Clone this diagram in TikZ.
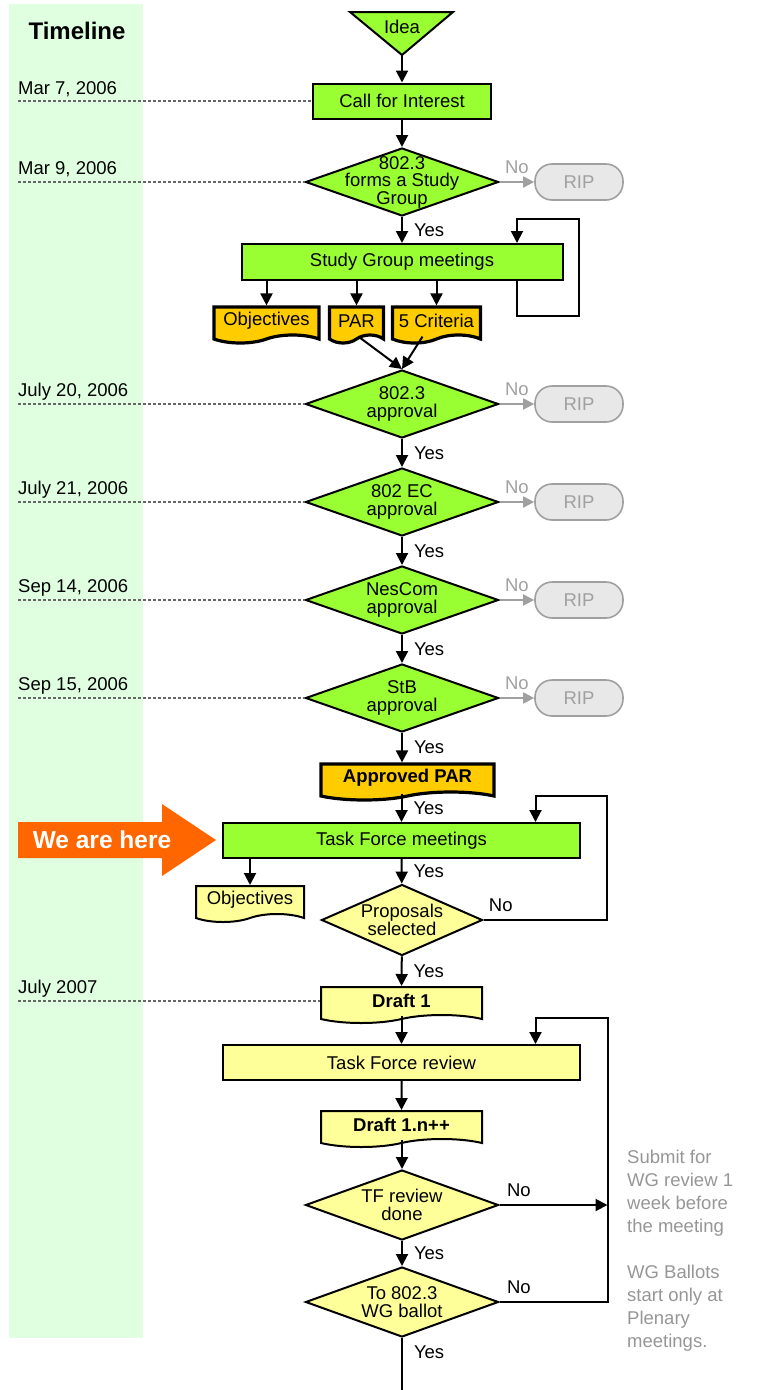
\documentclass[tikz,border=0pt]{standalone}
\usepackage{fontspec}
\setmainfont{Liberation Sans}
\usetikzlibrary{arrows.meta, shapes.geometric, shapes.symbols, positioning, calc}

\definecolor{FlowGreen}{RGB}{153,255,51}
\definecolor{DocOrange}{RGB}{255,204,0}
\definecolor{DocYellow}{RGB}{255,255,153}
\definecolor{TimeGreen}{RGB}{224,255,224}
\definecolor{HereOrange}{RGB}{255,102,0}
\definecolor{RipGray}{RGB}{160,160,160}
\definecolor{NoteGray}{RGB}{150,150,150}

\tikzset{
  txt/.style={font=\fontsize{18.5}{17.5}\selectfont},
  process/.style={draw, line width=2pt, fill=#1, minimum height=35pt, inner sep=0pt, txt},
  decision/.style={diamond, draw, line width=2pt, fill=#1, minimum width=193pt,
    minimum height=68pt, inner sep=0pt},
  dtext/.style={txt, align=center, inner sep=0pt},
  document/.style={tape, tape bend top=none, tape bend bottom=in and out, tape bend height=8pt,
    draw, line width=2pt, fill=#1, inner sep=0pt, minimum height=36pt, txt},
  rip/.style={draw=RipGray, fill=black!9, text=RipGray, line width=1.6pt, rounded corners=17pt,
    minimum width=88pt, minimum height=36pt, txt},
  flow/.style={-{Triangle[length=12pt,width=12pt]}, line width=2pt},
  noflow/.style={-{Triangle[length=11pt,width=11pt]}, line width=1.8pt, draw=RipGray},
  dateline/.style={dash pattern=on 3pt off 2pt, line width=1.5pt, draw=black!60},
  date/.style={anchor=base west, inner sep=0pt, txt},
  yes/.style={anchor=west, inner sep=0pt, xshift=11pt, txt},
  nolabel/.style={anchor=south, inner sep=0pt, yshift=7pt, txt, text=#1},
  nolabel/.default=RipGray,
}

\begin{document}
\begin{tikzpicture}[x=1pt, y=-1pt]
  \useasboundingbox (0,0) rectangle (757,1390);

  % timeline strip
  \fill[TimeGreen] (9,4) rectangle (143,1338);
  \node[font=\fontsize{24}{28}\selectfont\bfseries] (title) at (77,31) {Timeline};

  % main column
  \draw[fill=FlowGreen, line width=2pt] (350,12) -- (453,12) -- (402,55) -- cycle;
  \node[txt, inner sep=0pt] (idea) at (402,27) {Idea};
  \coordinate (ideatip) at (402,55);

  \node[process=FlowGreen, minimum width=178pt] (call) at (402,101) {Call for Interest};
  \node[decision=FlowGreen, label={[dtext]center:{802.3\\forms a Study\\Group}}] (sg) at (402,182) {};
  \node[process=FlowGreen, minimum width=321pt, minimum height=36pt] (sgm) at (402,262) {Study Group meetings};

  \node[document=DocOrange, line width=3.2pt, minimum width=105pt] (obj) at (266.5,321) {Objectives};
  \node[document=DocOrange, line width=3.2pt, minimum width=54pt] (par) at (356.5,321) {PAR};
  \node[document=DocOrange, line width=3.2pt, minimum width=88pt] (crit) at (436.5,321) {5 Criteria};

  \node[decision=FlowGreen, label={[dtext]center:{802.3\\approval}}] (app) at (402,404) {};
  \node[decision=FlowGreen, label={[dtext]center:{802 EC\\approval}}] (ec) at (402,502) {};
  \node[decision=FlowGreen, label={[dtext]center:{NesCom\\approval}}] (nes) at (402,600) {};
  \node[decision=FlowGreen, label={[dtext]center:{StB\\approval}}] (stb) at (402,698) {};

  \node[document=DocOrange, line width=3.2pt, minimum width=173pt, font=\fontsize{18.5}{17.5}\selectfont\bfseries]
    (apar) at (407.5,778) {Approved PAR};
  \node[process=FlowGreen, minimum width=357pt] (tfm) at (401.5,840.5) {Task Force meetings};
  \node[document=DocYellow, minimum width=108pt] (obj2) at (250,900) {Objectives};
  \node[decision=DocYellow, minimum width=161pt, minimum height=71pt,
    label={[dtext]center:{Proposals\\selected}}] (prop) at (402,920) {};

  \node[document=DocYellow, minimum width=161pt, font=\fontsize{18.5}{17.5}\selectfont\bfseries]
    (dr1) at (401.5,1001) {Draft 1};
  \node[process=DocYellow, minimum width=357pt] (tfr) at (401.5,1062.5) {Task Force review};
  \node[document=DocYellow, minimum width=161pt, font=\fontsize{18.5}{17.5}\selectfont\bfseries]
    (dr2) at (401.5,1125) {Draft 1.n++};
  \node[decision=DocYellow, minimum height=70pt, label={[dtext]center:{TF review\\done}}] (tfdone) at (402,1205) {};
  \node[decision=DocYellow, minimum height=70pt, label={[dtext]center:{To 802.3\\WG ballot}}] (ballot) at (402,1302) {};
  \coordinate (wgnext) at (402,1390);

  % dead ends
  \node[rip] (rip1) at (579,182) {RIP};
  \node[rip] (rip2) at (579,404) {RIP};
  \node[rip] (rip3) at (579,502) {RIP};
  \node[rip] (rip4) at (579,600) {RIP};
  \node[rip] (rip5) at (579,698) {RIP};

  % dates
  \node[date] (d1) at (18,94) {Mar 7, 2006};
  \node[date] (d2) at (18,174) {Mar 9, 2006};
  \node[date] (d3) at (18,396) {July 20, 2006};
  \node[date] (d4) at (18,494) {July 21, 2006};
  \node[date] (d5) at (18,592) {Sep 14, 2006};
  \node[date] (d6) at (18,690) {Sep 15, 2006};
  \node[date] (d7) at (18,993) {July 2007};
  \foreach \d/\n in {d1/call, d2/sg, d3/app, d4/ec, d5/nes, d6/stb, d7/dr1}
    \draw[dateline] (\d.west |- \n.west) -- (\n.west);

  % we are here
  \fill[HereOrange] (18,822) -- (162,822) -- (162,804) -- (216,840) -- (162,876) -- (162,858) -- (18,858) -- cycle;
  \node[text=white, font=\fontsize{24.5}{28}\selectfont\bfseries] (here) at (102,840) {We are here};

  % notes
  \node[anchor=north west, inner sep=0pt, align=left, text=NoteGray,
    font=\fontsize{18.5}{23}\selectfont] (note) at (627,1150)
    {Submit for\\WG review 1\\week before\\the meeting\\[23pt]WG Ballots\\start only at\\Plenary\\meetings.};

  % connectors
  \draw[flow] (ideatip) -- (call);
  \draw[flow] (call) -- (sg);
  \draw[flow] (sg) -- node[yes]{Yes} (sgm);
  \draw[flow] ([xshift=115pt]sgm.south) -- ++(0,35) -- ++(62,0) -- ++(0,-97) -- ++(-62,0)
    -- ([xshift=115pt]sgm.north);
  \foreach \n in {obj, par, crit}
    \draw[flow] (sgm.south -| \n.north) -- (\n.north);
  \draw[flow] ([xshift=2pt]par.south) -- (app.north);
  \draw[flow] ([xshift=-14pt]crit.south) -- (app.north);

  \draw[flow] (app) -- node[yes]{Yes} (ec);
  \draw[flow] (ec) -- node[yes]{Yes} (nes);
  \draw[flow] (nes) -- node[yes]{Yes} (stb);
  \draw[flow] (stb) -- node[yes]{Yes} (stb |- apar.north);
  \foreach \d/\r in {sg/rip1, app/rip2, ec/rip3, nes/rip4, stb/rip5}
    \draw[noflow] (\d) -- node[nolabel]{No} (\r);

  \draw[flow] (apar.south -| tfm) -- node[yes]{Yes} (tfm);
  \draw[flow] (tfm.south -| obj2) -- (obj2);
  \draw[flow] (tfm) -- node[yes]{Yes} (prop);
  \draw[flow] (prop.east) -- node[nolabel=black, pos=.14]{No} ++(123,0) -- ++(0,-124)
    -| ([xshift=134pt]tfm.north);
  \draw[flow] (prop) -- node[yes]{Yes} (dr1);
  \draw[flow] (dr1.south -| tfr) -- (tfr);
  \draw[flow] (tfr) -- (dr2);
  \draw[flow] (dr2.south -| tfdone) -- (tfdone);
  \draw[flow] (tfdone.east) -- node[nolabel=black, pos=.18]{No} ++(108,0);
  \draw[flow] (ballot.east) -- node[nolabel=black, pos=.18]{No} ++(108,0) -- ++(0,-284)
    -| ([xshift=134pt]tfr.north);
  \draw[flow] (tfdone) -- node[yes]{Yes} (ballot);
  \draw[line width=2pt] (ballot) -- node[yes, pos=.27]{Yes} (wgnext);
\end{tikzpicture}
\end{document}
